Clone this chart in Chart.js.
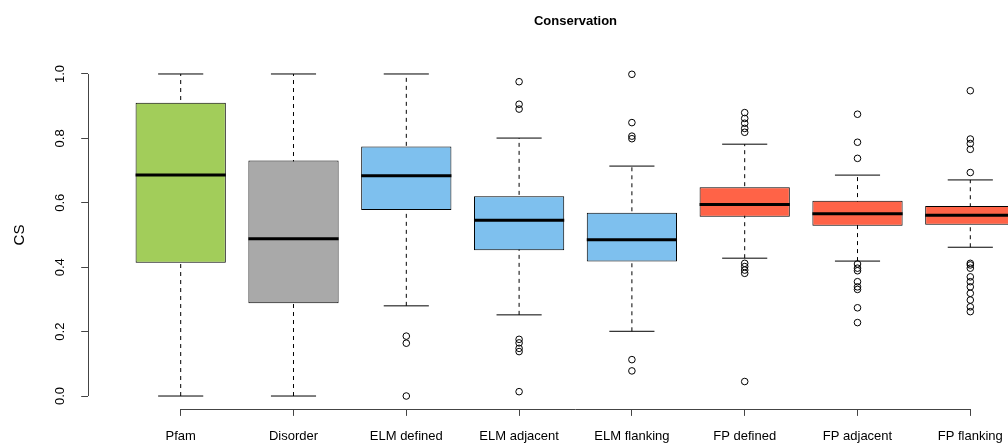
<!DOCTYPE html>
<html>
<head>
<meta charset="utf-8">
<title>Conservation</title>
<script src="https://cdn.jsdelivr.net/npm/chart.js@4"></script>
<style>
  html, body { margin: 0; padding: 0; overflow: hidden; background: #fff; }
  #wrap { width: 1100px; height: 448px; }
</style>
</head>
<body>
<div id="wrap"><canvas id="c" width="1100" height="448"></canvas></div>
<script>
// Conservation score (CS) summaries per region class
const categories = ['Pfam', 'Disorder', 'ELM defined', 'ELM adjacent', 'ELM flanking', 'FP defined', 'FP adjacent', 'FP flanking'];
const whiskerLow  = [0.000, 0.000, 0.280, 0.252, 0.201, 0.428, 0.419, 0.462];
const lowerQuart  = [0.414, 0.288, 0.578, 0.453, 0.418, 0.557, 0.529, 0.532];
const medians     = [0.686, 0.488, 0.684, 0.546, 0.485, 0.595, 0.566, 0.561];
const upperQuart  = [0.911, 0.731, 0.775, 0.620, 0.569, 0.648, 0.606, 0.590];
const whiskerHigh = [1.000, 1.000, 1.000, 0.801, 0.714, 0.782, 0.686, 0.671];
const outliers = [
  [],
  [],
  [0.186, 0.164, 0.000],
  [0.976, 0.906, 0.891, 0.176, 0.165, 0.148, 0.138, 0.0135],
  [0.999, 0.849, 0.807, 0.799, 0.113, 0.078],
  [0.880, 0.862, 0.847, 0.831, 0.819, 0.412, 0.402, 0.391, 0.381, 0.045],
  [0.875, 0.788, 0.738, 0.410, 0.397, 0.389, 0.355, 0.339, 0.331, 0.274, 0.228],
  [0.948, 0.798, 0.784, 0.766, 0.694, 0.412, 0.407, 0.397, 0.370, 0.355, 0.339, 0.319, 0.298, 0.277, 0.262]
];
const yTicks = [0, 0.2, 0.4, 0.6, 0.8, 1.0];
const boxColors = ['#A2CD5A', '#A9A9A9', '#7EC0EE', '#7EC0EE', '#7EC0EE', '#FF6347', '#FF6347', '#FF6347'];

const FONT = '"Liberation Sans", Arial, Helvetica, sans-serif';
const pos = categories.map((c, i) => i + 1);

// half-width (in x units) converted to pixels through the x scale
const halfWidthPx = (chart, units) => {
  const x = chart.scales.x;
  return Math.abs(x.getPixelForValue(1 + units) - x.getPixelForValue(1));
};

// whiskers: one dashed segment per box, separated by gaps
const whiskerData = [];
pos.forEach((p, i) => {
  whiskerData.push({ x: p, y: whiskerLow[i] }, { x: p, y: whiskerHigh[i] }, { x: p, y: null });
});

const capData = [];
pos.forEach((p, i) => { capData.push({ x: p, y: whiskerLow[i] }, { x: p, y: whiskerHigh[i] }); });

const outlierData = [];
pos.forEach((p, i) => outliers[i].forEach(v => outlierData.push({ x: p, y: v })));

// axis lines spanning only the tick range
const axisLines = {
  id: 'axisLines',
  afterDraw(chart) {
    const { ctx, scales: { x, y }, chartArea } = chart;
    ctx.save();
    ctx.strokeStyle = '#444';
    ctx.lineWidth = 1;
    ctx.beginPath();
    const ax = Math.round(chartArea.left) + 0.5;
    ctx.moveTo(ax, y.getPixelForValue(yTicks[0]));
    ctx.lineTo(ax, y.getPixelForValue(yTicks[yTicks.length - 1]));
    const ay = Math.round(chartArea.bottom) + 0.5;
    ctx.moveTo(x.getPixelForValue(pos[0]), ay);
    ctx.lineTo(x.getPixelForValue(pos[pos.length - 1]), ay);
    ctx.stroke();
    ctx.restore();
  }
};

new Chart(document.getElementById('c'), {
  type: 'bar',
  data: {
    datasets: [
      {
        type: 'line',
        data: whiskerData,
        borderColor: '#000',
        borderWidth: 1,
        borderDash: [4, 4],
        pointRadius: 0,
        spanGaps: false,
        order: 5
      },
      {
        type: 'scatter',
        data: capData,
        pointStyle: 'line',
        pointRadius: ctx => halfWidthPx(ctx.chart, 0.2),
        pointBorderColor: '#000',
        pointBorderWidth: 1,
        order: 4
      },
      {
        type: 'bar',
        data: pos.map((p, i) => ({ x: p, y: [lowerQuart[i], upperQuart[i]] })),
        backgroundColor: boxColors,
        borderColor: '#000',
        borderWidth: 1,
        borderSkipped: false,
        barPercentage: 0.8,
        categoryPercentage: 1.0,
        order: 3
      },
      {
        type: 'scatter',
        data: pos.map((p, i) => ({ x: p, y: medians[i] })),
        pointStyle: 'line',
        pointRadius: ctx => halfWidthPx(ctx.chart, 0.4),
        pointBorderColor: '#000',
        pointBorderWidth: 3,
        order: 2
      },
      {
        type: 'scatter',
        data: outlierData,
        pointStyle: 'circle',
        pointRadius: 3.3,
        pointBackgroundColor: 'rgba(0,0,0,0)',
        pointBorderColor: '#000',
        pointBorderWidth: 1,
        clip: false,
        order: 1
      }
    ]
  },
  plugins: [axisLines],
  options: {
    responsive: false,
    devicePixelRatio: 1,
    animation: false,
    events: [],
    layout: { padding: { left: 0, right: 37.2, top: 0, bottom: 0 } },
    plugins: {
      legend: { display: false },
      tooltip: { enabled: false },
      title: {
        display: true,
        fullSize: false,
        text: 'Conservation',
        color: '#000',
        font: { family: FONT, size: 13, weight: 'bold', lineHeight: 1.2 },
        padding: { top: 13.2, bottom: 32.3 }
      }
    },
    scales: {
      x: {
        type: 'linear',
        min: 0.18,
        max: 8.82,
        offset: false,
        afterBuildTicks: s => { s.ticks = pos.map(v => ({ value: v })); },
        afterFit: s => { s.height = 39.1; },
        border: { display: false },
        grid: { display: true, offset: false, drawOnChartArea: false, drawTicks: true, tickLength: 7, color: '#444', lineWidth: 1 },
        ticks: {
          autoSkip: false,
          maxRotation: 0,
          minRotation: 0,
          padding: 13,
          color: '#000',
          font: { family: FONT, size: 13 },
          callback: v => categories[v - 1]
        }
      },
      y: {
        type: 'linear',
        min: -0.04,
        max: 1.04,
        afterBuildTicks: s => { s.ticks = yTicks.map(v => ({ value: v })); },
        afterFit: s => { s.width = 88.2; },
        border: { display: false },
        grid: { display: true, drawOnChartArea: false, drawTicks: true, tickLength: 7, color: '#444', lineWidth: 1 },
        ticks: {
          minRotation: 90,
          maxRotation: 90,
          crossAlign: 'center',
          padding: 12,
          color: '#000',
          font: { family: FONT, size: 13 },
          callback: v => v.toFixed(1)
        },
        title: {
          display: true,
          text: 'CS',
          color: '#000',
          font: { family: FONT, size: 15 },
          padding: { top: 11, bottom: 0 }
        }
      }
    }
  }
});
</script>
</body>
</html>
